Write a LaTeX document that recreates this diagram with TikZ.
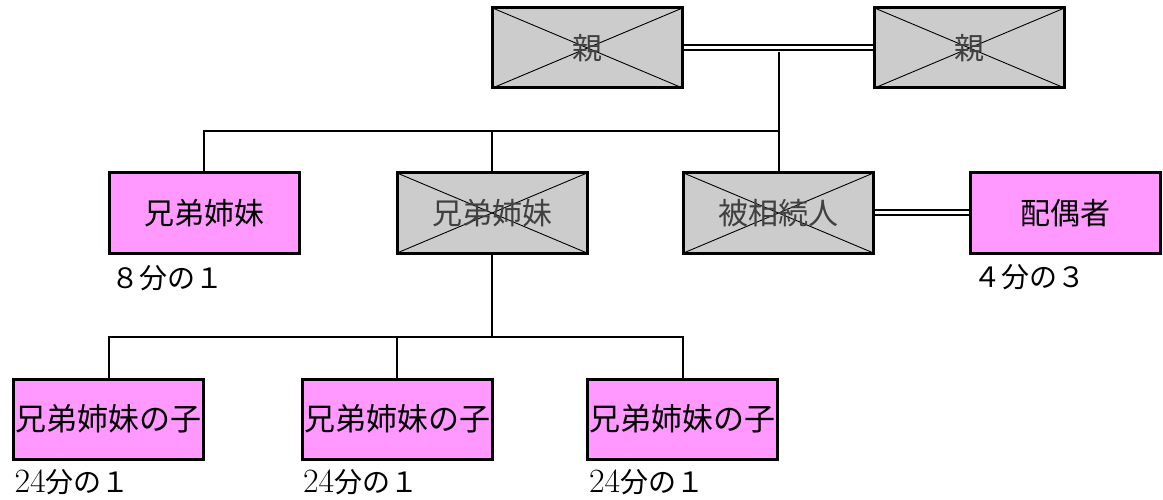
\documentclass[tikz,border=0pt]{standalone}
\usepackage{fontspec}
\newfontfamily\jp{Noto Sans CJK JP}
\newcommand\half[1]{{\rmfamily\fontsize{34}{34}\selectfont #1}}
\definecolor{heir}{HTML}{FF99FF}
\definecolor{gone}{HTML}{CCCCCC}
\begin{document}
\begin{tikzpicture}[x=1pt, y=-1pt, line width=2pt,
    person/.style={draw, line width=3pt, rectangle, minimum width=190pt, minimum height=80pt, inner sep=0pt, font=\jp\fontsize{30}{30}\selectfont},
    heirbox/.style={person, fill=heir},
    deadbox/.style={person, fill=gone, text=black!75, path picture={\draw[line width=0.9pt, black] (path picture bounding box.north west) -- (path picture bounding box.south east) (path picture bounding box.north east) -- (path picture bounding box.south west);}},
    share/.style={anchor=west, inner sep=0pt, font=\jp\fontsize{28}{28}\selectfont},
    marriage/.style={draw, line width=2pt, double, double distance=3pt}]
    \useasboundingbox (0,0) rectangle (1163,500);
    \node [deadbox] (Father) at (587.5,48) {親};
    \node [deadbox] (Mother) at (969.5,48) {親};
    \node [heirbox] (Sib) at (204,213) {兄弟姉妹};
    \node [deadbox] (SibDead) at (492,213) {兄弟姉妹};
    \node [deadbox] (Deceased) at (778.5,213) {被相続人};
    \node [heirbox] (Spouse) at (1065.5,213) {配偶者};
    \node [heirbox, font=\jp\fontsize{31}{31}\selectfont] (Nephew1) at (108.5,419) {兄弟姉妹の子};
    \node [heirbox, font=\jp\fontsize{31}{31}\selectfont] (Nephew2) at (397,419) {兄弟姉妹の子};
    \node [heirbox, font=\jp\fontsize{31}{31}\selectfont] (Nephew3) at (682.5,419) {兄弟姉妹の子};
    \node [share] (SibShare) at (110,278) {８分の１};
    \node [share] (SpouseShare) at (972,277) {４分の３};
    \node [share] (Share1) at (13.5,482) {\half{24}分の１};
    \node [share] (Share2) at (302,482) {\half{24}分の１};
    \node [share] (Share3) at (588,482) {\half{24}分の１};
    \coordinate (Couple) at (778.5,52);
    \coordinate (Fork) at (778.5,131);
    \coordinate (Fork2) at (492,337);
    \draw[marriage] (Father.east) -- (Mother.west);
    \draw[marriage] (Deceased.east) -- (Spouse.west);
    \draw (Couple) -- (Deceased.north);
    \draw (Fork) -| (Sib.north);
    \draw (SibDead.north) -- (SibDead.north |- Fork);
    \draw (SibDead.south) -- (Fork2);
    \draw (Nephew1.north) |- (Nephew3.north |- Fork2) -- (Nephew3.north);
    \draw (Nephew2.north) -- (Nephew2.north |- Fork2);
\end{tikzpicture}
\end{document}
